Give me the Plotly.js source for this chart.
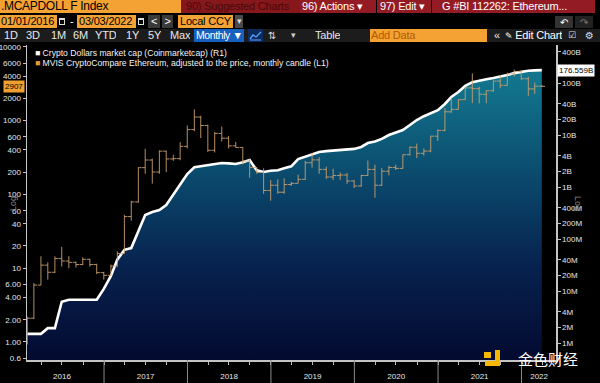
<!DOCTYPE html>
<html><head><meta charset="utf-8">
<script src="https://cdn.plot.ly/plotly-3.0.1.min.js"></script>
<style>
html,body{margin:0;padding:0;background:#000;width:600px;height:383px;overflow:hidden;font-family:'Liberation Sans',Arial,sans-serif;}
#chart{position:absolute;left:0;top:0;width:600px;height:383px;}
.b{position:absolute;white-space:nowrap;box-sizing:border-box;font-size:11px;letter-spacing:-0.2px;line-height:13px;height:13px;overflow:hidden;}
.cal{position:absolute;width:6px;height:7px;border:1px solid #ddd;border-top-width:2px;box-sizing:border-box;}
</style></head><body>
<div id="chart"></div>
<div id="bar">
  <!-- row 1 -->
  <div class="b" style="left:0;top:0;width:181px;background:#f4a233;color:#000;padding-left:1px;font-size:12px;letter-spacing:-0.3px;">.MCAPDOLL F Index</div>
  <div class="b" style="left:181px;top:0;width:119px;background:#86181c;color:#4a0808;padding-left:5px;">90) Suggested Charts</div>
  <div class="b" style="left:300px;top:0;width:76px;background:#931b24;color:#fff;padding-left:2px;">96) Actions ▾</div>
  <div class="b" style="left:377px;top:0;width:54px;background:#931b24;color:#fff;padding-left:3px;">97) Edit ▾</div>
  <div class="b" style="left:432px;top:0;width:163px;background:#931b24;color:#fff;padding-left:10px;">G #BI 112262: Ethereum...</div>
  <!-- row 2 -->
  <div class="b" style="left:0;top:15px;width:57px;background:#f4a233;color:#000;padding-left:1px;">01/01/2016</div>
  <div class="cal" style="left:59px;top:18px;"></div>
  <div class="b" style="left:70px;top:15px;width:6px;color:#fff;">-</div>
  <div class="b" style="left:77px;top:15px;width:59px;background:#f4a233;color:#000;padding-left:2px;">03/03/2022</div>
  <div class="cal" style="left:138px;top:18px;"></div>
  <div class="b" style="left:148px;top:15px;width:12px;background:#3a3a3a;color:#fff;text-align:center;">&lt;</div>
  <div class="b" style="left:162px;top:15px;width:11px;background:#3a3a3a;color:#fff;text-align:center;">&gt;</div>
  <div class="b" style="left:178px;top:15px;width:55px;background:#f4a233;color:#000;padding-left:2px;">Local CCY</div>
  <div class="b" style="left:235px;top:15px;width:8px;background:#4a4a4a;color:#ddd;text-align:center;font-size:9px;">▾</div>
  <div class="b" style="left:555px;top:16px;width:18px;height:12px;background:#333;color:#fff;text-align:center;font-family:'DejaVu Sans';font-size:10px;">↶</div>
  <div class="b" style="left:575px;top:16px;width:18px;height:12px;background:#222;color:#777;text-align:center;font-family:'DejaVu Sans';font-size:10px;">↷</div>
  <!-- row 3 -->
  <div class="b" style="left:0;top:29px;width:600px;background:#1c1c1c;"></div>
  <div class="b" style="left:4px;top:29px;color:#e8e8e8;">1D</div>
  <div class="b" style="left:26px;top:29px;color:#e8e8e8;">3D</div>
  <div class="b" style="left:51px;top:29px;color:#e8e8e8;">1M</div>
  <div class="b" style="left:73px;top:29px;color:#e8e8e8;">6M</div>
  <div class="b" style="left:95px;top:29px;color:#e8e8e8;">YTD</div>
  <div class="b" style="left:126px;top:29px;color:#e8e8e8;">1Y</div>
  <div class="b" style="left:148px;top:29px;color:#e8e8e8;">5Y</div>
  <div class="b" style="left:170px;top:29px;color:#e8e8e8;">Max</div>
  <div class="b" style="left:194px;top:29px;width:50px;background:#1760bf;color:#fff;padding-left:2px;font-size:10.5px;letter-spacing:-0.4px;">Monthly ▼</div>
  <div class="b" style="left:248px;top:29px;width:15px;background:#0c2c5e;">
    <svg width="15" height="13"><polyline points="2,10 5,6 8,8 13,3" fill="none" stroke="#5aa0ff" stroke-width="1.3"/><line x1="2" y1="11" x2="13" y2="11" stroke="#5aa0ff" stroke-width="1"/></svg>
  </div>
  <div class="b" style="left:268px;top:29px;color:#ddd;font-family:'DejaVu Sans';font-size:10px;">⇅</div>
  <div class="b" style="left:291px;top:29px;color:#ccc;font-size:9px;">▾</div>
  <div class="b" style="left:315px;top:29px;color:#e8e8e8;">Table</div>
  <div class="b" style="left:370px;top:29px;width:117px;background:#f4a233;color:#b35a00;padding-left:1px;">Add Data</div>
  <div class="b" style="left:494px;top:29px;color:#e8e8e8;">«</div>
  <div class="b" style="left:505px;top:29px;color:#fff;"><span style="font-family:'DejaVu Sans';font-size:9px;">✎</span> Edit Chart</div>
  <div class="b" style="left:568px;top:29px;color:#ddd;font-family:'DejaVu Sans';font-size:9px;">☑</div>
  <div class="b" style="left:585px;top:29px;color:#ddd;font-family:'DejaVu Sans';font-size:10px;">⚙</div>
</div>
<script>
// ---- data (month-end candles, Jan 2016 .. Mar 2022) ----
const startYear = 2016;
const monthCount = 75;
const ethOpen = [0.93,2.1,5.9,11.0,8.8,13.5,12.5,12.0,11.2,13.2,11.2,8.7,
  8.0,10.7,15.8,50,79,230,292,201,385,302,305,447,
  755,1118,856,396,670,577,455,433,283,232,198,113,
  133,107,136,141,160,268,293,218,172,180,183,152,
  130,180,218,133,206,231,225,345,435,360,386,615,
  737,1314,1417,1919,2773,2706,2275,2536,3432,3001,4288,4630,
  3683,2688,2920];
const ethHigh = [2.2,6.3,14.5,12.0,14.5,19.5,14.5,12.3,14.0,13.4,11.5,8.9,
  11.2,17.0,53,82,232,415,305,395,390,345,510,860,
  1420,1160,880,700,830,620,515,435,300,235,225,157,
  160,165,148,185,285,362,320,238,223,198,195,155,
  185,288,253,227,245,253,348,445,488,420,622,760,
  1475,2036,1945,2797,4362,2890,2551,3466,4027,4460,4891,4778,
  3901,3282,3042];
const ethLow = [0.93,2.05,5.9,7.0,8.6,10.5,10.0,10.2,11.0,10.5,8.3,7.0,
  7.9,10.5,15.7,44,77,190,140,190,200,285,290,420,
  720,580,375,370,520,420,430,255,168,190,102,82,
  102,102,130,141,157,230,190,162,156,157,139,122,
  127,178,90,130,180,214,223,335,310,335,373,530,
  715,1271,1416,1911,1720,1707,1719,2451,2742,2970,3960,3575,
  2160,2301,2860];
const ethClose = [2.1,5.9,11.0,8.8,13.5,12.5,12.0,11.2,13.2,11.2,8.7,8.0,
  10.7,15.8,50,79,230,292,201,385,302,305,447,755,
  1118,856,396,670,577,455,433,283,232,198,113,133,
  107,136,141,160,268,293,218,172,180,183,152,130,
  180,218,133,206,231,225,345,435,360,386,615,737,
  1314,1417,1919,2773,2706,2275,2536,3432,3001,4288,4630,3683,
  2688,2920,2907];
const stableCap = [1.5e6,1.5e6,1.5e6,1.93e6,1.93e6,6.2e6,6.8e6,6.8e6,6.8e6,6.8e6,6.8e6,11e6,
  19.5e6,40e6,62e6,67e6,142e6,290e6,330e6,360e6,450e6,730e6,1.14e9,1.78e9,
  2.4e9,2.5e9,2.6e9,2.77e9,2.9e9,2.85e9,2.77e9,3.0e9,3.3e9,2.1e9,1.95e9,2.05e9,
  2.1e9,2.3e9,2.5e9,3.45e9,3.8e9,4.3e9,4.7e9,4.9e9,5.0e9,5.15e9,5.3e9,5.4e9,
  5.9e9,7.0e9,7.5e9,8.4e9,10e9,11.2e9,12.5e9,15.6e9,19.4e9,23e9,26.5e9,30e9,
  39.5e9,54e9,67e9,88e9,104e9,112e9,118e9,125e9,131e9,142e9,155e9,166e9,
  172e9,175e9,176.559e9];
const yearLabels = ['2016','2017','2018','2019','2020','2021','2022'];
const yearLabelPos = ['2016-07-01','2017-07-02','2018-07-02','2019-07-02','2020-07-02','2021-07-02','2022-03-19'];
const yearStarts = ['2017-01-01','2018-01-01','2019-01-01','2020-01-01','2021-01-01','2022-01-01'];
const leftTickVals = [0.6,1,2,4,6,10,20,40,60,100,200,400,600,1000,2000,4000,6000,10000];
const leftTickText = ['0.6','1.00','2.00','4.00','6.00','10','20','40','60','100','200','400','600','1000','2000','4000','6000','10000'];
const rightTickVals = [1e6,2e6,4e6,1e7,2e7,4e7,1e8,2e8,4e8,1e9,2e9,4e9,1e10,2e10,4e10,1e11,4e11];
const rightTickText = ['1M','2M','4M','10M','20M','40M','100M','200M','400M','1B','2B','4B','10B','20B','40B','100B','400B'];
const lastEth = 2907;
const lastCap = 176.559e9;

const dates = [];
for (let i = 0; i < monthCount; i++) {
  const d = new Date(Date.UTC(startYear + Math.floor(i / 12), (i % 12) + 1, 0));
  dates.push(d.toISOString().slice(0, 10));
}

const candleColor = 'rgba(205,160,112,0.88)';
const traces = [
  {type:'scatter', x:dates, y:stableCap, yaxis:'y', mode:'lines',
   line:{color:'#ffffff', width:2.6}, fill:'tozeroy',
   fillgradient:{type:'vertical', start:4.7e5, stop:5.3e11,
     colorscale:[[0,'#040a30'],[0.3,'#07224f'],[0.6,'#0b4c6e'],[0.85,'#11708a'],[1,'#157f95']]},
   hoverinfo:'skip', showlegend:false},
  {type:'ohlc', x:dates, open:ethOpen, high:ethHigh, low:ethLow, close:ethClose, yaxis:'y2',
   increasing:{line:{color:candleColor, width:1}}, decreasing:{line:{color:candleColor, width:1}},
   tickwidth:0.5, hoverinfo:'skip', showlegend:false}
];

const axisGray = '#c4c4c4';
const shapes = yearStarts.map(d => ({type:'line', xref:'x', yref:'paper', x0:d, x1:d, y0:0, y1:-0.075,
  line:{color:'#8a8a8a', width:1}}));
// watermark logo blocks
shapes.push({type:'rect', xref:'paper', yref:'paper', x0:(484-27)/529, x1:(491-27)/529, y0:(360-352)/315, y1:(360-358)/315, fillcolor:'#f5b700', line:{width:0}});
shapes.push({type:'rect', xref:'paper', yref:'paper', x0:(495-27)/529, x1:(500-27)/529, y0:(360-350)/315, y1:(360-366)/315, fillcolor:'#f5b700', line:{width:0}});
shapes.push({type:'rect', xref:'paper', yref:'paper', x0:(485-27)/529, x1:(500-27)/529, y0:(360-361)/315, y1:(360-366)/315, fillcolor:'#f5b700', line:{width:0}});

const px = v => (v - 27) / 529;
const py = v => (360 - v) / 315;
const annotations = [
  {xref:'paper', yref:'paper', x:px(33), y:py(53), xanchor:'left', yanchor:'middle', showarrow:false,
   text:'<span style="color:#ffffff">■</span> Crypto Dollars market cap (Coinmarketcap) (R1)',
   font:{family:'Liberation Sans', size:8.6, color:'#f4f4f4'}},
  {xref:'paper', yref:'paper', x:px(33), y:py(62.5), xanchor:'left', yanchor:'middle', showarrow:false,
   text:'<span style="color:#e0a030">■</span> MVIS CryptoCompare Ethereum, adjusted to the price, monthly candle (L1)',
   font:{family:'Liberation Sans', size:8.6, color:'#f4f4f4'}},
  {xref:'paper', yref:'y2', x:0, y:Math.log10(lastEth), xanchor:'right', yanchor:'middle', xshift:-2, showarrow:false,
   text:String(lastEth), bgcolor:'#f0a030', borderpad:1, font:{family:'Liberation Sans', size:8, color:'#000'}},
  {xref:'paper', yref:'y', x:1, y:Math.log10(lastCap), xanchor:'left', yanchor:'middle', xshift:1, showarrow:false,
   text:(lastCap/1e9).toFixed(3)+'B', bgcolor:'#ffffff', borderpad:1, font:{family:'Liberation Sans', size:8, color:'#000'}},
  {xref:'paper', yref:'paper', x:px(6), y:py(204), showarrow:false, textangle:-90,
   text:'Log', font:{family:'Liberation Sans', size:9, color:'#8a8a8a'}},
  {xref:'paper', yref:'paper', x:px(585), y:py(203), showarrow:false, textangle:90,
   text:'Log', font:{family:'Liberation Sans', size:9, color:'#8a8a8a'}},
  {xref:'paper', yref:'paper', x:px(548), y:py(358.5), xanchor:'center', yanchor:'middle', showarrow:false,
   text:'金色财经', font:{family:'Noto Sans CJK SC', size:15, color:'#ffffff'}}
];

const layout = {
  width:600, height:383,
  margin:{l:27, r:44, t:45, b:23, pad:0},
  paper_bgcolor:'#000', plot_bgcolor:'#000',
  showlegend:false,
  xaxis:{type:'date', range:['2016-01-30','2022-06-01'], rangeslider:{visible:false},
    tickmode:'array', tickvals:yearLabelPos, ticktext:yearLabels, ticks:'',
    tickfont:{family:'Liberation Sans', size:8, color:'#e6e6e6'},
    minor:{tickmode:'linear', tick0:'2016-01-01', dtick:'M3', ticks:'outside', ticklen:3, tickcolor:'#bdbdbd', showgrid:false},
    showline:true, linecolor:axisGray, linewidth:1.5, showgrid:false, zeroline:false, fixedrange:true,
    ticklabelstandoff:8},
  yaxis:{type:'log', side:'right', range:[5.673, 11.731],
    tickmode:'array', tickvals:rightTickVals, ticktext:rightTickText,
    ticks:'outside', ticklen:3, tickcolor:axisGray, showline:true, linecolor:axisGray, linewidth:1.5,
    tickfont:{family:'Liberation Sans', size:8, color:'#e6e6e6'}, showgrid:false, zeroline:false, fixedrange:true},
  yaxis2:{type:'log', overlaying:'y', side:'left', range:[-0.244, 4.024],
    tickmode:'array', tickvals:leftTickVals, ticktext:leftTickText,
    ticks:'outside', ticklen:3, tickcolor:axisGray, showline:true, linecolor:axisGray, linewidth:1.5,
    tickfont:{family:'Liberation Sans', size:8, color:'#e6e6e6'}, showgrid:false, zeroline:false, fixedrange:true},
  shapes:shapes,
  annotations:annotations
};

Plotly.newPlot('chart', traces, layout, {displayModeBar:false, staticPlot:true});
</script>
</body></html>
